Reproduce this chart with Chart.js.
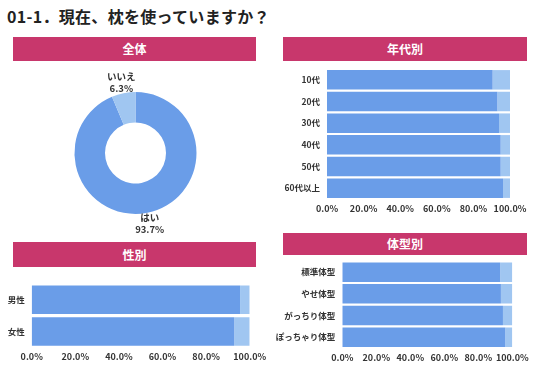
<!DOCTYPE html>
<html><head><meta charset="utf-8">
<script src="https://cdn.jsdelivr.net/npm/chart.js@4/dist/chart.umd.min.js"></script>
<style>
html,body{margin:0;padding:0;background:#fff;}
body{width:536px;height:371px;position:relative;overflow:hidden;font-family:"Noto Sans CJK JP",sans-serif;}
.title{position:absolute;left:7px;top:4px;font-size:16px;font-weight:700;color:#222;letter-spacing:0.3px;white-space:nowrap;}
.hdr{position:absolute;background:#C8376C;color:#fff;font-weight:700;font-size:12px;text-align:center;}
.box{position:absolute;}
</style></head><body>
<div class="title">01-1．現在、枕を使っていますか？</div>
<div class="hdr" style="left:13px;top:37px;width:243px;height:24px;line-height:24px;">全体</div>
<div class="hdr" style="left:283px;top:37px;width:244px;height:24px;line-height:24px;">年代別</div>
<div class="hdr" style="left:13px;top:242px;width:243px;height:25px;line-height:25px;">性別</div>
<div class="hdr" style="left:283px;top:233px;width:244px;height:22px;line-height:22px;">体型別</div>
<div class="box" style="left:14px;top:62px;width:243px;height:178px;"><canvas id="c1"></canvas></div>
<div class="box" style="left:270px;top:62px;width:266px;height:160px;"><canvas id="c2"></canvas></div>
<div class="box" style="left:0px;top:270px;width:270px;height:101px;"><canvas id="c3"></canvas></div>
<div class="box" style="left:270px;top:256px;width:266px;height:115px;"><canvas id="c4"></canvas></div>
<script>
const answerLabels = ["はい", "いいえ"];
const overallValues = [93.7, 6.3];

const ageCategories = ["10代", "20代", "30代", "40代", "50代", "60代以上"];
const ageYes = [90.5, 93.1, 94.0, 94.9, 94.9, 96.2];
const ageNo  = [9.5, 6.9, 6.0, 5.1, 5.1, 3.8];

const genderCategories = ["男性", "女性"];
const genderYes = [95.6, 92.9];
const genderNo  = [4.4, 7.1];

const bodyCategories = ["標準体型", "やせ体型", "がっちり体型", "ぽっちゃり体型"];
const bodyYes = [92.9, 93.3, 94.5, 95.9];
const bodyNo  = [7.1, 6.7, 5.5, 4.1];

const xTicks = [0, 20, 40, 60, 80, 100];

const BLUE = "#6A9DE8";
const LIGHT = "#A0C6F1";
const FONT = "'Noto Sans CJK JP', sans-serif";
Chart.defaults.font.family = FONT;
Chart.defaults.color = "#333";
Chart.defaults.animation = false;

const donutLabels = {
  id: "donutLabels",
  afterDatasetsDraw(chart) {
    const ctx = chart.ctx;
    const meta = chart.getDatasetMeta(0);
    ctx.save();
    ctx.fillStyle = "#333";
    ctx.font = "700 9.5px " + FONT;
    ctx.textAlign = "center";
    ctx.textBaseline = "middle";
    meta.data.forEach((arc, i) => {
      const p = arc.getProps(["x","y","startAngle","endAngle","outerRadius"], true);
      const a = (p.startAngle + p.endAngle) / 2;
      const r = p.outerRadius + 11;
      const x = p.x + Math.cos(a) * r;
      const y = p.y + Math.sin(a) * r;
      ctx.fillText(answerLabels[i], x, y - 6);
      ctx.fillText(overallValues[i].toFixed(1) + "%", x, y + 5.5);
    });
    ctx.restore();
  }
};

new Chart(document.getElementById("c1"), {
  type: "doughnut",
  data: { labels: answerLabels, datasets: [{ data: overallValues, backgroundColor: [BLUE, LIGHT], borderWidth: 0 }] },
  options: {
    responsive: true, maintainAspectRatio: false,
    cutout: "50%",
    layout: { padding: { top: 30, bottom: 26, left: 0, right: 0 } },
    plugins: { legend: { display: false }, tooltip: { enabled: false } }
  },
  plugins: [donutLabels]
});

function barChart(id, cats, yes, no, yWidth, pad, xHeight) {
  new Chart(document.getElementById(id), {
    type: "bar",
    data: {
      labels: cats,
      datasets: [
        { label: "はい", data: yes, backgroundColor: BLUE, barPercentage: 0.9, categoryPercentage: 1 },
        { label: "いいえ", data: no, backgroundColor: LIGHT, barPercentage: 0.9, categoryPercentage: 1 }
      ]
    },
    options: {
      indexAxis: "y",
      responsive: true, maintainAspectRatio: false,
      layout: { padding: pad },
      plugins: { legend: { display: false }, tooltip: { enabled: false } },
      scales: {
        x: {
          stacked: true, min: 0, max: 100,
          grid: { display: false, drawTicks: false }, border: { display: false },
          afterBuildTicks: s => { s.ticks = xTicks.map(v => ({ value: v })); },
          afterFit: s => { s.height = xHeight; s.paddingLeft = 0; s.paddingRight = 0; },
          ticks: { padding: 4, autoSkip: false, font: { size: 9, weight: "700" }, color: "#333", maxRotation: 0,
                   callback: v => Number(v).toFixed(1) + "%" }
        },
        y: {
          stacked: true,
          grid: { display: false, drawTicks: false }, border: { display: false },
          afterFit: s => { s.width = yWidth; s.paddingTop = 0; s.paddingBottom = 0; },
          ticks: { padding: 7, autoSkip: false, font: { size: 8.5, weight: "700" }, color: "#333" }
        }
      }
    }
  });
}

barChart("c2", ageCategories, ageYes, ageNo, 57, { top: 7, right: 26, left: 0, bottom: 0 }, 23);
barChart("c3", genderCategories, genderYes, genderNo, 31.7, { top: 14, right: 20.3, left: 0, bottom: 0 }, 23.7);
barChart("c4", bodyCategories, bodyYes, bodyNo, 72.3, { top: 5.3, right: 23.7, left: 0, bottom: 0 }, 23);
</script>
</body></html>
